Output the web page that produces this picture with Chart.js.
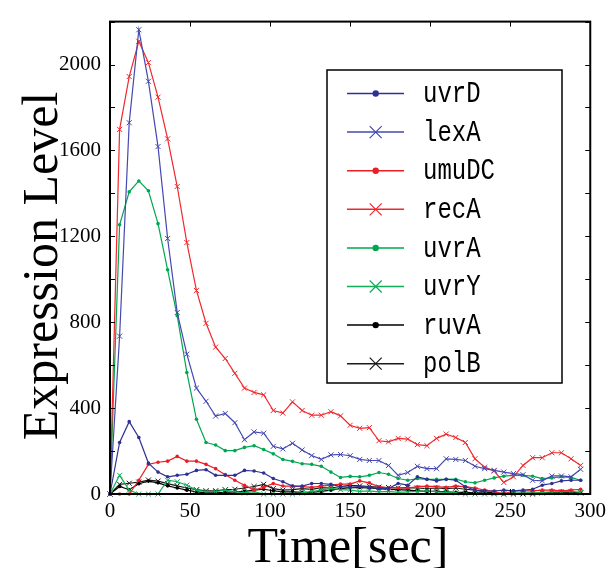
<!DOCTYPE html>
<html><head><meta charset="utf-8">
<script src="https://cdn.jsdelivr.net/npm/chart.js@4"></script>
<style>html,body{margin:0;padding:0;background:#fff;}#wrap{width:611px;height:568px;position:relative;}</style>
</head><body><div id="wrap"><canvas id="c" width="611" height="568"></canvas></div>
<script>
const times = [0,6,12,18,24,30,36,42,48,54,60,66,72,78,84,90,96,102,108,114,120,126,132,138,144,150,156,162,168,174,180,186,192,198,204,210,216,222,228,234,240,246,252,258,264,270,276,282,288,294];
const uvrD  = [0,240,337,263,144,102,80,87,92,110,113,87,87,87,110,107,98,72,57,37,37,49,49,45,35,31,34,31,26,26,49,41,80,69,61,69,64,34,18,15,14,18,15,18,22,41,49,61,64,64];
const lexA  = [0,735,1729,2162,1922,1618,1190,845,651,493,432,363,375,332,253,289,283,222,210,236,205,179,161,182,184,178,161,156,156,133,87,100,129,118,118,164,161,156,129,118,110,102,95,90,64,61,84,84,80,115];
const umuDC = [0,0,0,64,138,148,153,175,153,153,138,118,90,64,41,18,31,49,37,37,34,31,37,41,46,46,61,52,34,28,28,28,34,37,34,31,37,34,28,18,11,0,15,15,15,18,18,15,18,22];
const recA  = [0,1698,1944,2108,2009,1848,1654,1432,1171,948,795,684,631,562,493,473,462,389,377,429,389,367,367,383,364,320,306,309,248,243,259,256,230,225,259,279,263,240,164,125,107,54,80,133,169,169,192,192,164,133];
const uvrA  = [0,1254,1407,1458,1412,1259,1044,830,566,348,240,228,202,202,217,225,207,187,161,152,141,138,129,102,77,82,80,87,100,92,72,64,72,68,68,68,69,57,52,64,75,83,87,87,83,72,75,80,77,64];
const uvrY  = [0,87,18,0,0,0,64,57,41,18,11,11,18,11,5,11,0,0,0,0,5,11,18,26,20,18,12,15,10,12,8,10,12,15,10,8,5,0,0,0,0,0,3,5,5,8,10,10,12,8];
const ruvA  = [0,35,20,48,60,52,38,28,18,10,5,5,8,10,12,18,22,15,10,10,8,8,12,18,25,30,30,28,25,22,20,18,15,12,12,10,8,8,5,5,3,3,3,3,3,3,5,5,5,5];
const polB  = [0,45,50,55,65,60,48,38,28,20,15,15,20,22,28,35,45,25,18,20,25,22,30,28,35,40,38,35,32,30,28,30,28,25,28,25,28,22,18,10,5,0,0,0,0,5,8,8,8,5];
const seriesNames = ['uvrD','lexA','umuDC','recA','uvrA','uvrY','ruvA','polB'];
const seriesValues = [uvrD, lexA, umuDC, recA, uvrA, uvrY, ruvA, polB];
const yTickLabels = [0,400,800,1200,1600,2000];
const xTickLabels = [0,50,100,150,200,250,300];
const xTitle = 'Time[sec]';
const yTitle = 'Expression Level';

const colors = ['#2e3192','#4448b0','#ee1c25','#f0282d','#00a651','#12ad5a','#000000','#1a1a1a'];
const markers = ['circle','crossRot','circle','crossRot','circle','crossRot','circle','crossRot'];

const datasets = seriesNames.map((name, i) => ({
  label: name,
  data: times.map((t, j) => ({x: t, y: seriesValues[i][j]})),
  borderColor: colors[i],
  backgroundColor: colors[i],
  borderWidth: 1.2,
  pointStyle: markers[i],
  pointRadius: markers[i] === 'circle' ? 1.8 : 3.6,
  pointBorderWidth: markers[i] === 'circle' ? 0 : 1,
  pointBackgroundColor: colors[i],
  pointBorderColor: colors[i],
  tension: 0,
  clip: false
}));

const framePlugin = {
  id: 'frame',
  afterDatasetsDraw(chart) {
    const {ctx, chartArea: a, scales} = chart;
    ctx.save();
    ctx.strokeStyle = '#000';
    ctx.lineWidth = 1;
    const tl = 5;
    scales.y.ticks.forEach(t => {
      const y = Math.round(scales.y.getPixelForValue(t.value)) + 0.5;
      ctx.beginPath();
      ctx.moveTo(a.left, y); ctx.lineTo(a.left + tl, y);
      ctx.moveTo(a.right, y); ctx.lineTo(a.right - tl, y);
      ctx.stroke();
    });
    scales.x.ticks.forEach(t => {
      const x = Math.round(scales.x.getPixelForValue(t.value)) + 0.5;
      ctx.beginPath();
      ctx.moveTo(x, a.top); ctx.lineTo(x, a.top + tl);
      ctx.moveTo(x, a.bottom); ctx.lineTo(x, a.bottom - tl);
      ctx.stroke();
    });
    ctx.lineWidth = 2;
    ctx.strokeRect(a.left, a.top, a.right - a.left, a.bottom - a.top);

    // legend
    const bx = 327, by = 70, bw = 235, bh = 313;
    ctx.fillStyle = '#fff';
    ctx.fillRect(bx, by, bw, bh);
    ctx.lineWidth = 1.5;
    ctx.strokeStyle = '#000';
    ctx.strokeRect(bx, by, bw, bh);
    chart.data.datasets.forEach((ds, i) => {
      const y = 93.5 + i * 38.6;
      ctx.strokeStyle = ds.borderColor;
      ctx.lineWidth = 1.5;
      ctx.beginPath(); ctx.moveTo(347, y); ctx.lineTo(404, y); ctx.stroke();
      const mx = 375.7;
      if (ds.pointStyle === 'circle') {
        ctx.fillStyle = ds.borderColor;
        ctx.beginPath(); ctx.arc(mx, y, 3.2, 0, Math.PI * 2); ctx.fill();
      } else {
        ctx.lineWidth = 1.2;
        ctx.beginPath();
        ctx.moveTo(mx - 6, y - 6); ctx.lineTo(mx + 6, y + 6);
        ctx.moveTo(mx - 6, y + 6); ctx.lineTo(mx + 6, y - 6);
        ctx.stroke();
      }
      ctx.save();
      ctx.translate(423, y + 1);
      ctx.scale(1, 1.2);
      ctx.fillStyle = '#000';
      ctx.font = '24px "Liberation Mono"';
      ctx.textBaseline = 'middle';
      ctx.textAlign = 'left';
      ctx.fillText(ds.label, 0, 0);
      ctx.restore();
    });

    // axis titles
    ctx.fillStyle = '#000';
    ctx.font = '50px "Liberation Serif"';
    ctx.textAlign = 'center';
    ctx.textBaseline = 'alphabetic';
    ctx.fillText(xTitle, 348, 562);
    ctx.save();
    ctx.translate(57, 266);
    ctx.rotate(-Math.PI / 2);
    ctx.fillText(yTitle, 0, 0);
    ctx.restore();
    ctx.restore();
  }
};

new Chart(document.getElementById('c'), {
  type: 'line',
  data: {datasets},
  options: {
    responsive: false,
    animation: false,
    devicePixelRatio: 1,
    layout: {padding: {top: 15, right: 20, left: 0, bottom: 0}},
    plugins: {legend: {display: false}, tooltip: {enabled: false}},
    scales: {
      x: {
        type: 'linear', min: 0, max: 300,
        grid: {display: false, drawTicks: false}, border: {display: false},
        ticks: {stepSize: 50, color: '#000', padding: 5, maxRotation: 0,
          font: {family: 'Liberation Serif', size: 21},
          callback: v => xTickLabels.includes(v) ? String(v) : ''},
        title: {display: false, text: xTitle},
        afterFit: s => { s.height = 74; }
      },
      y: {
        min: 0, max: 2200,
        grid: {display: false, drawTicks: false}, border: {display: false},
        ticks: {stepSize: 200, color: '#000', padding: 9,
          font: {family: 'Liberation Serif', size: 21},
          callback: v => yTickLabels.includes(v) ? String(v) : ''},
        title: {display: false, text: yTitle},
        afterFit: s => { s.width = 110; }
      }
    }
  },
  plugins: [framePlugin]
});
</script></body></html>
